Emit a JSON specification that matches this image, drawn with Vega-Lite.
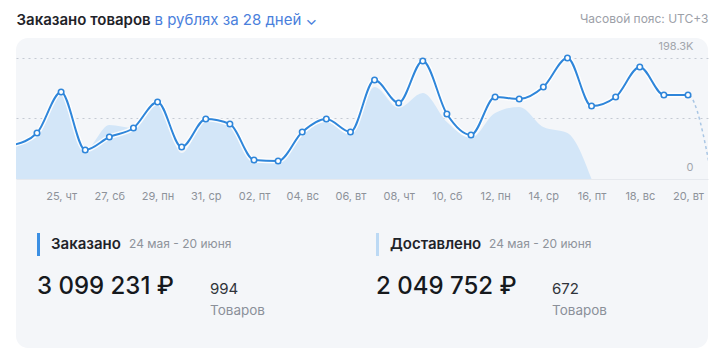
{
  "$schema": "https://vega.github.io/schema/vega-lite/v6.json",
  "width": 692,
  "height": 310,
  "autosize": {"type": "none"},
  "padding": {"left": 16, "top": 38, "right": 12, "bottom": 14},
  "background": "white",
  "config": {
    "view": {"fill": "#f4f6f9", "stroke": null, "cornerRadius": 12},
    "font": "Inter",
    "text": {"font": "Inter"}
  },
  "layer": [
    {
      "data": {
        "values": [
          {"date": "2023-05-23", "ordered": 55700, "delivered": 55700},
          {"date": "2023-05-24", "ordered": 75400, "delivered": 68800},
          {"date": "2023-05-25", "ordered": 142600, "delivered": 137700},
          {"date": "2023-05-26", "ordered": 47500, "delivered": 47500},
          {"date": "2023-05-27", "ordered": 68800, "delivered": 88500},
          {"date": "2023-05-28", "ordered": 83600, "delivered": 83600},
          {"date": "2023-05-29", "ordered": 126200, "delivered": 121300},
          {"date": "2023-05-30", "ordered": 52400, "delivered": 42600},
          {"date": "2023-05-31", "ordered": 98300, "delivered": 95100},
          {"date": "2023-06-01", "ordered": 90100, "delivered": 86900},
          {"date": "2023-06-02", "ordered": 31100, "delivered": 26200},
          {"date": "2023-06-03", "ordered": 29500, "delivered": 26200},
          {"date": "2023-06-04", "ordered": 77000, "delivered": 72100},
          {"date": "2023-06-05", "ordered": 98300, "delivered": 93400},
          {"date": "2023-06-06", "ordered": 77000, "delivered": 72100},
          {"date": "2023-06-07", "ordered": 162200, "delivered": 150800},
          {"date": "2023-06-08", "ordered": 124600, "delivered": 116400},
          {"date": "2023-06-09", "ordered": 193400, "delivered": 140900},
          {"date": "2023-06-10", "ordered": 106500, "delivered": 93400},
          {"date": "2023-06-11", "ordered": 72100, "delivered": 67200},
          {"date": "2023-06-12", "ordered": 134400, "delivered": 108200},
          {"date": "2023-06-13", "ordered": 131100, "delivered": 118000},
          {"date": "2023-06-14", "ordered": 150800, "delivered": 85200},
          {"date": "2023-06-15", "ordered": 198300, "delivered": 75400},
          {"date": "2023-06-16", "ordered": 119600, "delivered": 0},
          {"date": "2023-06-17", "ordered": 134400, "delivered": null},
          {"date": "2023-06-18", "ordered": 183500, "delivered": null},
          {"date": "2023-06-19", "ordered": 137700, "delivered": null},
          {"date": "2023-06-20", "ordered": 137700, "delivered": null},
          {"date": "2023-06-21", "ordered": 0, "delivered": null}
        ]
      },
      "encoding": {
        "x": {
          "field": "date",
          "type": "temporal",
          "scale": {
            "type": "utc",
            "domain": [
              {"year": 2023, "month": 5, "date": 23, "hours": 3, "minutes": 6, "utc": true},
              {"year": 2023, "month": 6, "date": 20, "hours": 19, "minutes": 54, "utc": true}
            ]
          },
          "axis": {
            "values": [
              {"year": 2023, "month": 5, "date": 25, "utc": true},
              {"year": 2023, "month": 5, "date": 27, "utc": true},
              {"year": 2023, "month": 5, "date": 29, "utc": true},
              {"year": 2023, "month": 5, "date": 31, "utc": true},
              {"year": 2023, "month": 6, "date": 2, "utc": true},
              {"year": 2023, "month": 6, "date": 4, "utc": true},
              {"year": 2023, "month": 6, "date": 6, "utc": true},
              {"year": 2023, "month": 6, "date": 8, "utc": true},
              {"year": 2023, "month": 6, "date": 10, "utc": true},
              {"year": 2023, "month": 6, "date": 12, "utc": true},
              {"year": 2023, "month": 6, "date": 14, "utc": true},
              {"year": 2023, "month": 6, "date": 16, "utc": true},
              {"year": 2023, "month": 6, "date": 18, "utc": true},
              {"year": 2023, "month": 6, "date": 20, "utc": true}
            ],
            "labelExpr": "utcFormat(datum.value, '%d') + ', ' + ['вс','пн','вт','ср','чт','пт','сб'][utcday(datum.value)]",
            "offset": -169,
            "domain": false,
            "ticks": false,
            "tickSize": 0,
            "grid": false,
            "labelPadding": 11,
            "labelBaseline": "top",
            "labelColor": "#8d929a",
            "labelFont": "Inter",
            "labelFontSize": 11,
            "labelOverlap": false,
            "labelFlush": false,
            "title": "в рублях за 28 дней ⌄",
            "titleX": 138,
            "titleY": -155,
            "titleAlign": "left",
            "titleAngle": 0,
            "titleBaseline": "alphabetic",
            "titleColor": "#4a80dc",
            "titleFont": "Inter",
            "titleFontSize": 15,
            "titleFontWeight": "normal"
          }
        }
      },
      "layer": [
        {
          "mark": {"type": "area", "interpolate": "monotone", "color": "#d3e6f8", "opacity": 1, "clip": true},
          "encoding": {
            "y": {
              "field": "delivered",
              "type": "quantitative",
              "scale": {"domain": [-276963, 231075], "nice": false, "zero": false},
              "axis": {
                "orient": "right",
                "values": [0, 99150, 198300],
                "labelExpr": "datum.value == 0 ? '0' : (datum.value > 150000 ? '198.3K' : '')",
                "grid": true,
                "gridDash": {"condition": {"test": "datum.value === 0", "value": []}, "value": [2, 4]},
                "gridColor": {"condition": {"test": "datum.value === 0", "value": "#e6e9ee"}, "value": "#c5cad3"},
                "domain": false,
                "ticks": false,
                "tickSize": 0,
                "labelPadding": -15,
                "labelAlign": "right",
                "labelBaseline": "middle",
                "labelOffset": -11,
                "labelColor": "#a2a6ad",
                "labelFont": "Inter",
                "labelFontSize": 11,
                "title": "Часовой пояс: UTC+3",
                "titleX": 0,
                "titleY": -16,
                "titleAlign": "right",
                "titleAngle": 0,
                "titleBaseline": "alphabetic",
                "titleColor": "#9ca0a8",
                "titleFont": "Inter",
                "titleFontSize": 12,
                "titleFontWeight": "normal"
              }
            },
            "y2": {"datum": 0}
          }
        },
        {
          "mark": {"type": "line", "interpolate": "monotone", "color": "#a9c6e4", "strokeWidth": 1.5, "strokeDash": [3, 3], "clip": true},
          "encoding": {"y": {"field": "ordered", "type": "quantitative"}}
        },
        {
          "transform": [{"filter": "time(datum.date) <= utc(2023, 5, 20)"}],
          "mark": {"type": "line", "interpolate": "monotone", "color": "white", "strokeWidth": 5, "opacity": 0.85, "clip": true},
          "encoding": {"y": {"field": "ordered", "type": "quantitative"}}
        },
        {
          "transform": [{"filter": "time(datum.date) <= utc(2023, 5, 20)"}],
          "mark": {"type": "line", "interpolate": "monotone", "color": "#2f86da", "strokeWidth": 2, "clip": true},
          "encoding": {"y": {"field": "ordered", "type": "quantitative"}}
        },
        {
          "transform": [{"filter": "time(datum.date) >= utc(2023, 4, 24) && time(datum.date) <= utc(2023, 5, 20)"}],
          "mark": {"type": "point", "filled": true, "fill": "white", "stroke": "#2f86da", "strokeWidth": 1.6, "size": 30, "opacity": 1, "clip": true},
          "encoding": {"y": {"field": "ordered", "type": "quantitative"}}
        }
      ]
    },
    {
      "data": {
        "values": [
          {"metric": "Заказано", "period": "24 мая - 20 июня", "amount": "3 099 231 ₽", "count": "994", "unit": "Товаров"},
          {"metric": "Доставлено", "period": "24 мая - 20 июня", "amount": "2 049 752 ₽", "count": "672", "unit": "Товаров"}
        ]
      },
      "layer": [
        {
          "mark": {"type": "tick", "orient": "vertical", "size": 23, "thickness": 3, "yOffset": 51.5, "xOffset": 1.5, "opacity": 1},
          "encoding": {
            "x": {
              "field": "metric", "type": "nominal",
              "scale": {"type": "point", "domain": ["Заказано", "Доставлено"], "range": [21, 360], "padding": 0},
              "axis": {
                "orient": "top",
                "labels": false,
                "ticks": false,
                "domain": false,
                "grid": false,
                "title": "Заказано товаров",
                "titleX": 0,
                "titleY": -14,
                "titleAlign": "left",
                "titleAngle": 0,
                "titleBaseline": "alphabetic",
                "titleFont": "Inter",
                "titleFontSize": 15,
                "titleFontWeight": 600,
                "titleColor": "#1f2329"
              }
            },
            "color": {
              "field": "metric", "type": "nominal",
              "scale": {"domain": ["Заказано", "Доставлено"], "range": ["#3b8fe3", "#bcd9f4"]},
              "legend": null
            }
          }
        },
        {
          "mark": {"type": "text", "align": "left", "baseline": "middle", "dx": 14, "dy": 51, "fontSize": 15, "fontWeight": 600, "color": "#1f2329"},
          "encoding": {
            "x": {"field": "metric", "type": "nominal", "scale": {"type": "point", "domain": ["Заказано", "Доставлено"], "range": [21, 360], "padding": 0}, "axis": null},
            "text": {"field": "metric"}
          }
        },
        {
          "mark": {"type": "text", "align": "left", "baseline": "middle", "dy": 51, "fontSize": 12, "color": "#8e939b"},
          "encoding": {
            "x": {"field": "metric", "type": "nominal", "scale": {"type": "point", "domain": ["Заказано", "Доставлено"], "range": [113, 473], "padding": 0}, "axis": null},
            "text": {"field": "period"}
          }
        },
        {
          "mark": {"type": "text", "align": "left", "baseline": "middle", "dy": 94, "fontSize": 24, "fontWeight": 500, "color": "#16191d"},
          "encoding": {
            "x": {"field": "metric", "type": "nominal", "scale": {"type": "point", "domain": ["Заказано", "Доставлено"], "range": [21, 360], "padding": 0}, "axis": null},
            "text": {"field": "amount"}
          }
        },
        {
          "mark": {"type": "text", "align": "left", "baseline": "middle", "dy": 96, "fontSize": 15, "color": "#30343a"},
          "encoding": {
            "x": {"field": "metric", "type": "nominal", "scale": {"type": "point", "domain": ["Заказано", "Доставлено"], "range": [194, 536], "padding": 0}, "axis": null},
            "text": {"field": "count"}
          }
        },
        {
          "mark": {"type": "text", "align": "left", "baseline": "middle", "dy": 118, "fontSize": 13.5, "color": "#8b9099"},
          "encoding": {
            "x": {"field": "metric", "type": "nominal", "scale": {"type": "point", "domain": ["Заказано", "Доставлено"], "range": [194, 536], "padding": 0}, "axis": null},
            "text": {"field": "unit"}
          }
        }
      ],
      "resolve": {"scale": {"x": "independent"}}
    }
  ],
  "resolve": {"scale": {"x": "independent"}}
}
